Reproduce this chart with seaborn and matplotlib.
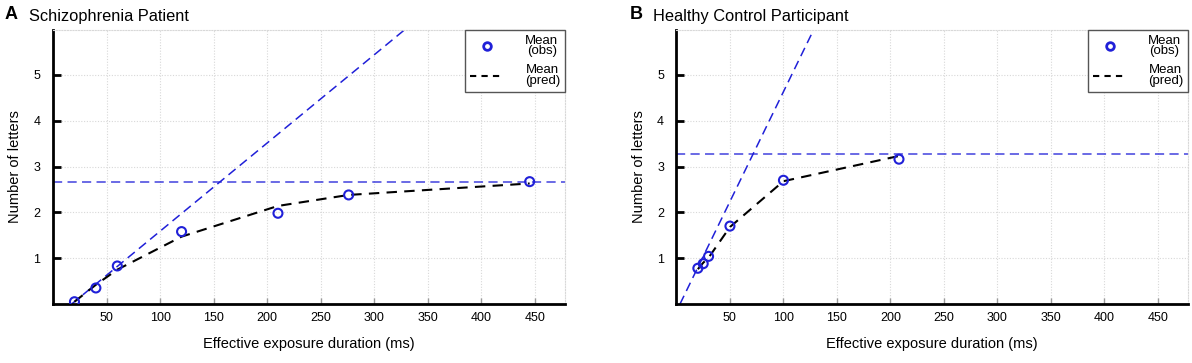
import matplotlib
matplotlib.use('Agg')
import matplotlib.pyplot as plt
from matplotlib.lines import Line2D
import seaborn as sns
import pandas as pd
import numpy as np

# panel A - schizophrenia patient
exp_A = [20, 40, 60, 120, 210, 276, 445]
obs_A = [0.05, 0.35, 0.83, 1.58, 1.98, 2.38, 2.67]
pred_A = [0.05, 0.42, 0.75, 1.47, 2.14, 2.38, 2.63]
t0_A = 17.4
rate_A = 0.01925
cap_A = 2.67

# panel B - healthy control
exp_B = [20, 25, 30, 50, 100, 208]
obs_B = [0.78, 0.88, 1.04, 1.70, 2.70, 3.16]
pred_B = [0.76, 0.90, 1.01, 1.68, 2.68, 3.23]
t0_B = 3.3
rate_B = 0.0479
cap_B = 3.28

titles = ['Schizophrenia Patient', 'Healthy Control Participant']
letters = ['A', 'B']
xticks = [50, 100, 150, 200, 250, 300, 350, 400, 450]
yticks = [1, 2, 3, 4, 5]

sns.set_style('white')
plt.rcParams['font.family'] = ['Liberation Sans', 'DejaVu Sans']
plt.rcParams['text.color'] = 'black'
plt.rcParams['axes.labelcolor'] = 'black'
plt.rcParams['xtick.labelcolor'] = 'black'
plt.rcParams['ytick.labelcolor'] = 'black'

blue = '#2020d8'
fig = plt.figure(figsize=(11.92, 3.63), dpi=100)
axA = fig.add_axes([0.0445, 0.1625, 0.4295, 0.755])
axB = fig.add_axes([0.5675, 0.1625, 0.4290, 0.755])

panels = [(axA, exp_A, obs_A, pred_A, t0_A, rate_A, cap_A),
          (axB, exp_B, obs_B, pred_B, t0_B, rate_B, cap_B)]

for i, (ax, ex, ob, pr, t0, rate, cap) in enumerate(panels):
    df = pd.DataFrame({'exp': ex, 'obs': ob, 'pred': pr})
    ax.set_xlim(0, 478)
    ax.set_ylim(0, 5.98)
    ax.axline((t0, 0), slope=rate, color=blue, lw=1.1, dashes=(6, 3.5), zorder=2)
    ax.axhline(cap, color=blue, lw=1.1, dashes=(6, 3.5), alpha=0.85, zorder=2)
    sns.lineplot(data=df, x='exp', y='pred', color='black', lw=1.5, ax=ax,
                 dashes=False, zorder=3).lines[-1].set_dashes((5, 3.5))
    sns.scatterplot(data=df, x='exp', y='obs', ax=ax, marker='o', s=42,
                    facecolor='none', edgecolor=blue, linewidth=1.5, zorder=4)
    ax.set_xticks(xticks)
    ax.set_yticks(yticks)
    ax.grid(True, color='#d8d8d8', linestyle=(0, (1, 1.5)), lw=0.8)
    for s in ['top', 'right']:
        ax.spines[s].set_color('#d8d8d8')
        ax.spines[s].set_linestyle((0, (1, 1.5)))
        ax.spines[s].set_linewidth(0.8)
    for s in ['left', 'bottom']:
        ax.spines[s].set_color('black')
        ax.spines[s].set_linewidth(2)
    ax.tick_params(axis='y', direction='in', length=6, width=2, color='black',
                   labelsize=9, left=True, pad=9)
    ax.tick_params(axis='x', direction='in', length=4, width=1, color='#999999',
                   labelsize=9, bottom=True, pad=6)
    ax.set_xlabel('Effective exposure duration (ms)', fontsize=10.5, labelpad=9)
    ax.set_ylabel('Number of letters', fontsize=10.5, labelpad=8)
    ax.text(-0.046, 1.02, titles[i], transform=ax.transAxes,
            fontsize=11.8, ha='left', va='bottom')
    ax.text(-0.094 if i == 0 else -0.091, 1.025, letters[i], transform=ax.transAxes,
            fontsize=13, fontweight='bold', ha='left', va='bottom')

    handles = [Line2D([], [], marker='o', ls='none', mfc='none', mec=blue, mew=2, ms=5.5),
               Line2D([], [], color='black', lw=1.5, dashes=(3, 2.5))]
    leg = ax.legend(handles, ['Mean\n(obs)', 'Mean\n(pred)'], loc='upper right',
                    borderaxespad=0.0, fancybox=False, framealpha=1, edgecolor='#555555',
                    fontsize=9.5, handlelength=2.6, labelspacing=0.55, borderpad=0.35,
                    handletextpad=1.6)
    leg.get_frame().set_linewidth(1)
    for t in leg.get_texts():
        t.set_multialignment('center')
        t.set_linespacing(0.85)

fig.savefig('out.png', dpi=100)
